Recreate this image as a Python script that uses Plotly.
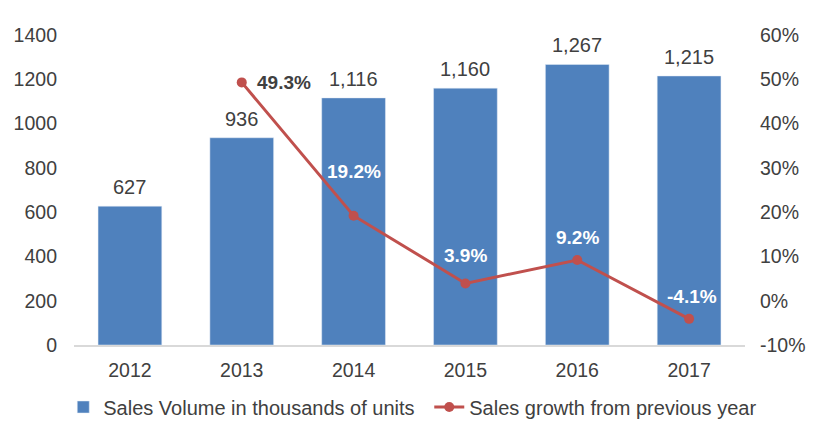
import plotly.graph_objects as go

years = [2012, 2013, 2014, 2015, 2016, 2017]
volume = [627, 936, 1116, 1160, 1267, 1215]
growth_years = [2013, 2014, 2015, 2016, 2017]
growth = [49.3, 19.2, 3.9, 9.2, -4.1]
growth_labels = ["49.3%", "19.2%", "3.9%", "9.2%", "-4.1%"]
pct_tickvals = [-10, 0, 10, 20, 30, 40, 50, 60]
pct_ticktext = ["-10%", "0%", "10%", "20%", "30%", "40%", "50%", "60%"]

bar_color = "#4F81BD"
line_color = "#C0504D"
text_color = "#404040"
font_family = "Liberation Sans, Arial, sans-serif"

fig = go.Figure()
fig.add_trace(go.Bar(
    x=years, y=volume, name="Sales Volume in thousands of units",
    marker_color=bar_color, width=0.57,
))
fig.add_trace(go.Scatter(
    x=growth_years, y=growth, name="Sales growth from previous year",
    yaxis="y2", mode="lines+markers",
    line=dict(color=line_color, width=3),
    marker=dict(color=line_color, size=10),
))

# bar value labels
for xv, v in zip(years, volume):
    fig.add_annotation(x=xv, y=v, xref="x", yref="y", text=f"{v:,}", showarrow=False,
                       yanchor="middle", yshift=19,
                       font=dict(size=20, color=text_color, family=font_family))

# growth labels
shifts = [(42, 0), (0, 44), (0, 28), (0, 22), (3, 22)]
colors = [text_color, "white", "white", "white", "white"]
for xv, yv, lab, (xs, ys), c in zip(growth_years, growth, growth_labels, shifts, colors):
    fig.add_annotation(x=xv, y=yv, xref="x", yref="y2", text=f"<b>{lab}</b>", showarrow=False,
                       xshift=xs, yshift=ys, yanchor="middle",
                       font=dict(size=19, color=c, family=font_family))

fig.update_layout(
    width=810, height=430,
    margin=dict(l=66, r=73, t=27, b=93, autoexpand=False),
    paper_bgcolor="white", plot_bgcolor="white",
    font=dict(family=font_family, size=19.5, color=text_color),
    showlegend=True,
    legend=dict(orientation="h", x=-0.016, xanchor="left", y=-0.2, yanchor="middle",
                font=dict(size=20, color=text_color), traceorder="normal",
                itemwidth=30, entrywidth=321),
    xaxis=dict(range=[2011.5, 2017.5], tickvals=years, ticktext=[str(y) for y in years],
               showgrid=False, showline=True, linecolor="#D9D9D9", automargin=False,
               linewidth=1.5, ticks="", tickfont=dict(size=19.5), zeroline=False,
               ticklabelstandoff=7),
    yaxis=dict(range=[0, 1400], dtick=200, showgrid=False, zeroline=False, automargin=False,
               showline=False, tickfont=dict(size=19.5), ticklabelstandoff=16),
    yaxis2=dict(range=[-10, 60], tickvals=pct_tickvals, ticktext=pct_ticktext,
                overlaying="y", side="right", automargin=False,
                showgrid=False, zeroline=False, showline=False,
                tickfont=dict(size=19.5), ticklabelstandoff=14),
)

fig.write_html("out.html")
